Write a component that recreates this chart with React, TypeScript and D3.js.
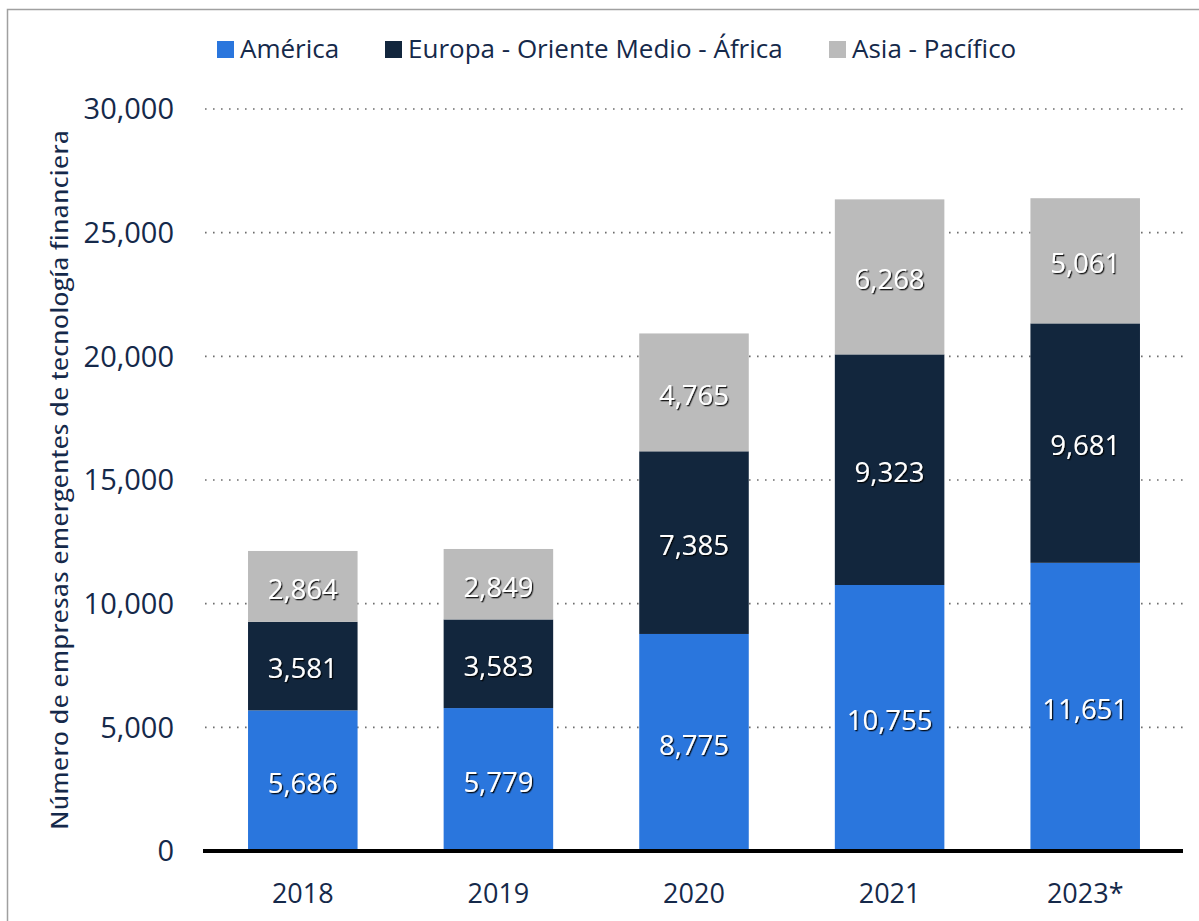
import React from "react";
import * as d3 from "d3";

const categories = ["2018", "2019", "2020", "2021", "2023*"];
const seriesNames = ["América", "Europa - Oriente Medio - África", "Asia - Pacífico"];
const america = [5686, 5779, 8775, 10755, 11651];
const europa = [3581, 3583, 7385, 9323, 9681];
const asia = [2864, 2849, 4765, 6268, 5061];
const yTicks = [0, 5000, 10000, 15000, 20000, 25000, 30000];
const colors = ["#2a76dd", "#12263d", "#bbbbbb"];
const yTitle = "Número de empresas emergentes de tecnología financiera";

const W = 1199;
const H = 921;
const FONT = "'Open Sans', 'Noto Sans', sans-serif";
const TEXT = "#15294a";

export default function App() {
  const x = d3
    .scaleBand<string>()
    .domain(categories)
    .range([205, 1183])
    .paddingInner(0.44)
    .paddingOuter(0.22);
  const y = d3.scaleLinear().domain([0, 30000]).range([851, 109]);

  const table = categories.map((c, i) => ({
    cat: c,
    "0": america[i],
    "1": europa[i],
    "2": asia[i],
  }));
  const stack = d3.stack<any>().keys(["0", "1", "2"]);
  const series = stack(table);
  const fmt = d3.format(",");

  const legendX = [217, 385, 829];

  return (
    <svg
      width={W}
      height={H}
      style={{ position: "absolute", left: 0, top: 0, background: "#fff" }}
      fontFamily={FONT}
    >
      <defs>
        <filter id="shadow" x="-20%" y="-20%" width="140%" height="140%">
          <feDropShadow dx="1.3" dy="1.3" stdDeviation="0.4" floodColor="#000" floodOpacity="0.85" />
        </filter>
      </defs>
      <rect x={7.5} y={9.5} width={1300} height={1000} fill="none" stroke="#a0a0a0" strokeWidth={1.5} />

      {/* legend */}
      {seriesNames.map((s, i) => (
        <g key={s}>
          <rect x={legendX[i]} y={41} width={17} height={17} fill={colors[i]} />
          <text x={legendX[i] + 23} y={58} fontSize={26} fill={TEXT}>
            {s}
          </text>
        </g>
      ))}

      {/* gridlines */}
      {yTicks
        .filter((t) => t > 0)
        .map((t) => (
          <line
            key={t}
            x1={205}
            x2={1183}
            y1={y(t)}
            y2={y(t)}
            stroke="#6e6e6e"
            strokeWidth={1.6}
            strokeDasharray="1.6,6.4"
          />
        ))}

      {/* y tick labels */}
      {yTicks.map((t) => (
        <text
          key={t}
          x={174}
          y={y(t)}
          dy="0.36em"
          textAnchor="end"
          fontSize={29}
          fill={TEXT}
        >
          {fmt(t)}
        </text>
      ))}

      {/* y title */}
      <text
        transform={`translate(68,${480}) rotate(-90)`}
        textAnchor="middle"
        fontSize={24}
        fill={TEXT}
        style={{ fontStretch: "condensed" }}
        textLength={700}
        lengthAdjust="spacingAndGlyphs"
      >
        {yTitle}
      </text>

      {/* bars */}
      {series.map((s, si) => (
        <g key={si}>
          {s.map((d: any) => (
            <rect
              key={d.data.cat}
              x={x(d.data.cat)}
              y={y(d[1])}
              width={x.bandwidth()}
              height={y(d[0]) - y(d[1])}
              fill={colors[si]}
            />
          ))}
        </g>
      ))}

      {/* bar labels */}
      {series.map((s, si) => (
        <g key={"l" + si}>
          {s.map((d: any) => (
            <text
              key={d.data.cat}
              x={(x(d.data.cat) as number) + x.bandwidth() / 2}
              y={(y(d[0]) + y(d[1])) / 2}
              dy="0.45em"
              textAnchor="middle"
              fontSize={27.5}
              fill="#ffffff"
              filter="url(#shadow)"
            >
              {fmt(d[1] - d[0])}
            </text>
          ))}
        </g>
      ))}

      {/* x axis line */}
      <line x1={203} x2={1183} y1={851} y2={851} stroke="#000" strokeWidth={4} />

      {/* x labels */}
      {categories.map((c) => (
        <text
          key={c}
          x={(x(c) as number) + x.bandwidth() / 2}
          y={903}
          textAnchor="middle"
          fontSize={27}
          fill={TEXT}
        >
          {c}
        </text>
      ))}
    </svg>
  );
}
